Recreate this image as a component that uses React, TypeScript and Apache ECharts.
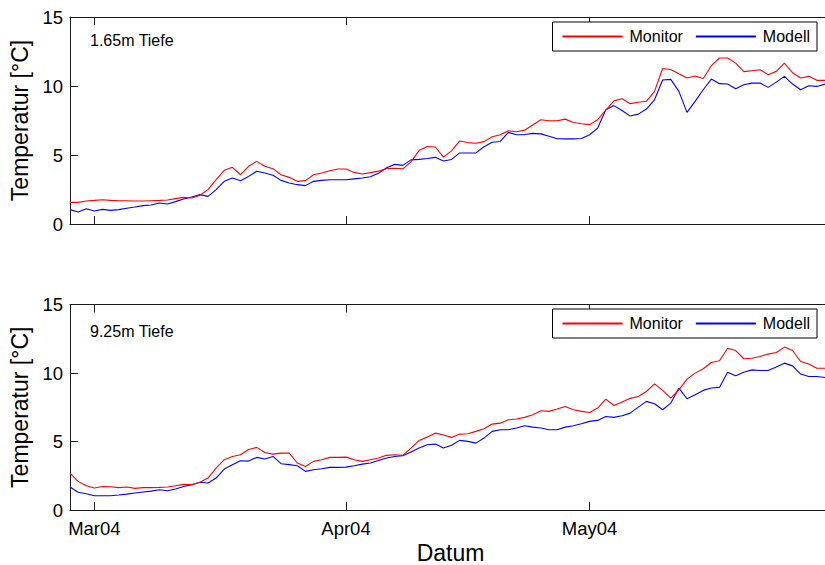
import React, { useEffect, useRef } from "react";
import * as echarts from "echarts";

// Daily values from 27 Feb 2004 to 30 May 2004
const START_DATE_UTC = Date.UTC(2004, 1, 27);

const monitor165 = [
  1.57, 1.57, 1.67, 1.71, 1.76, 1.71, 1.69, 1.69, 1.67, 1.67,
  1.69, 1.71, 1.74, 1.84, 1.93, 1.88, 2.08, 2.49, 3.21, 3.89,
  4.11, 3.57, 4.18, 4.54, 4.18, 4.01, 3.57, 3.38, 3.09, 3.14,
  3.57, 3.7, 3.86, 3.99, 3.99, 3.74, 3.62, 3.72, 3.83, 4.01,
  4.04, 4.0, 4.5, 5.32, 5.62, 5.58, 4.85, 5.3, 6.02, 5.9,
  5.85, 5.97, 6.32, 6.47, 6.76, 6.68, 6.8, 7.17, 7.55, 7.48,
  7.48, 7.6, 7.35, 7.26, 7.2, 7.56, 8.26, 8.92, 9.08, 8.72,
  8.82, 8.89, 9.61, 11.27, 11.2, 10.88, 10.58, 10.72, 10.54, 11.47,
  12.03, 12.03, 11.66, 11.04, 11.11, 11.18, 10.82, 11.06, 11.66, 10.96,
  10.58, 10.7, 10.41, 10.41,
];

const modell165 = [
  1.04, 0.87, 1.11, 0.94, 1.06, 0.99, 1.04, 1.14, 1.23, 1.33,
  1.38, 1.52, 1.45, 1.62, 1.81, 1.96, 2.13, 2.0, 2.49, 3.09,
  3.33, 3.14, 3.45, 3.82, 3.7, 3.53, 3.16, 2.97, 2.85, 2.78,
  3.09, 3.16, 3.21, 3.21, 3.21, 3.27, 3.33, 3.42, 3.67, 4.08,
  4.32, 4.25, 4.65, 4.68, 4.75, 4.83, 4.56, 4.68, 5.15, 5.15,
  5.15, 5.6, 5.92, 5.98, 6.64, 6.47, 6.48, 6.57, 6.53, 6.36,
  6.18, 6.17, 6.17, 6.2, 6.47, 6.95, 8.28, 8.58, 8.22, 7.82,
  7.96, 8.33, 9.0, 10.43, 10.48, 9.61, 8.09, 8.89, 9.73, 10.5,
  10.17, 10.14, 9.8, 10.09, 10.21, 10.21, 9.9, 10.28, 10.7, 10.14,
  9.73, 10.02, 9.97, 10.14,
];

const monitor925 = [
  2.7, 2.09, 1.77, 1.6, 1.72, 1.7, 1.63, 1.68, 1.58, 1.63,
  1.63, 1.65, 1.68, 1.77, 1.87, 1.85, 2.02, 2.33, 3.06, 3.67,
  3.91, 4.03, 4.42, 4.57, 4.2, 4.08, 4.15, 4.15, 3.43, 3.18,
  3.55, 3.67, 3.84, 3.84, 3.86, 3.67, 3.55, 3.67, 3.79, 3.99,
  4.03, 3.99, 4.52, 5.08, 5.32, 5.61, 5.48, 5.3, 5.54, 5.57,
  5.74, 5.93, 6.27, 6.34, 6.59, 6.64, 6.76, 6.95, 7.24, 7.2,
  7.37, 7.56, 7.32, 7.2, 7.12, 7.44, 8.09, 7.63, 7.88, 8.15,
  8.28, 8.65, 9.21, 8.73, 8.17, 8.77, 9.55, 9.99, 10.31, 10.77,
  10.89, 11.81, 11.64, 11.04, 11.08, 11.21, 11.38, 11.5, 11.89, 11.64,
  10.84, 10.65, 10.35, 10.35,
];

const modell925 = [
  1.68, 1.29, 1.19, 1.04, 1.04, 1.04, 1.09, 1.16, 1.24, 1.31,
  1.38, 1.48, 1.41, 1.53, 1.72, 1.85, 2.02, 1.97, 2.33, 2.99,
  3.3, 3.59, 3.57, 3.84, 3.72, 3.91, 3.38, 3.31, 3.23, 2.82,
  2.94, 3.01, 3.11, 3.11, 3.13, 3.23, 3.35, 3.43, 3.62, 3.79,
  3.91, 3.96, 4.23, 4.52, 4.76, 4.81, 4.52, 4.72, 5.08, 5.01,
  4.88, 5.25, 5.74, 5.86, 5.86, 5.98, 6.15, 6.05, 5.98, 5.86,
  5.86, 6.05, 6.15, 6.29, 6.47, 6.54, 6.83, 6.76, 6.88, 7.07,
  7.51, 7.93, 7.76, 7.32, 7.8, 8.9, 8.12, 8.41, 8.73, 8.9,
  8.95, 10.06, 9.8, 10.06, 10.23, 10.18, 10.18, 10.43, 10.72, 10.52,
  9.92, 9.75, 9.75, 9.67,
];

const SERIES_NAMES = ["Monitor", "Modell"];
const SERIES_COLORS = ["#ff0000", "#0000ff"];
const PANEL_TITLES = ["1.65m Tiefe", "9.25m Tiefe"];
const Y_MIN = 0;
const Y_MAX = 15;
const Y_INTERVAL = 5;
const MONTHS = ["Jan", "Feb", "Mar", "Apr", "May", "Jun", "Jul", "Aug", "Sep", "Oct", "Nov", "Dec"];

function buildDates(n: number): string[] {
  const out: string[] = [];
  for (let i = 0; i < n; i++) {
    const d = new Date(START_DATE_UTC + i * 86400000);
    const mm = String(d.getUTCMonth() + 1).padStart(2, "0");
    const dd = String(d.getUTCDate()).padStart(2, "0");
    out.push(`${d.getUTCFullYear()}-${mm}-${dd}`);
  }
  return out;
}

const FONT = "'Liberation Sans', Arial, Helvetica, sans-serif";
const AXIS_COLOR = "#1a1a1a";

// internal series key = display name + "|" + panel index
const key = (idx: number, panel: number) => `${SERIES_NAMES[idx]}|${panel}`;

export default function App() {
  const ref = useRef<HTMLDivElement>(null);

  useEffect(() => {
    if (!ref.current) return;
    const chart = echarts.init(ref.current, undefined, { renderer: "svg" });
    const dates = buildDates(monitor165.length);
    const isMonthStart = (_idx: number, value: string) => value.endsWith("-01");
    const fmt = (value: string) => {
      const [y, m] = value.split("-");
      return MONTHS[parseInt(m, 10) - 1] + y.slice(2);
    };

    const grids = [
      { left: 70, right: -1, top: 17, height: 207 },
      { left: 70, right: -1, top: 304.5, height: 206 },
    ];

    const makeX = (gridIndex: number, position: "bottom" | "top", labels: boolean, name?: string) => ({
      type: "category",
      gridIndex,
      position,
      data: dates,
      boundaryGap: false,
      axisLine: { show: true, lineStyle: { color: AXIS_COLOR, width: 1 } },
      axisTick: { show: true, inside: true, length: 8, interval: isMonthStart, lineStyle: { color: AXIS_COLOR } },
      axisLabel: {
        show: labels,
        interval: isMonthStart,
        formatter: fmt,
        fontSize: 18.5,
        fontFamily: FONT,
        color: "#000",
        margin: 9,
      },
      splitLine: { show: false },
      name: name || "",
      nameLocation: "middle",
      nameGap: 31,
      nameTextStyle: { fontSize: 23, fontFamily: FONT, color: "#000", padding: [0, 0, 0, 6] },
    });

    const makeY = (gridIndex: number) => ({
      type: "value",
      gridIndex,
      min: Y_MIN,
      max: Y_MAX,
      interval: Y_INTERVAL,
      axisLine: { show: true, lineStyle: { color: AXIS_COLOR, width: 1 } },
      axisTick: { show: true, inside: true, length: 8, lineStyle: { color: AXIS_COLOR } },
      axisLabel: { fontSize: 18.5, fontFamily: FONT, color: "#000", margin: 7 },
      splitLine: { show: false },
      name: "Temperatur [°C]",
      nameLocation: "middle",
      nameRotate: 90,
      nameGap: 37,
      nameTextStyle: { fontSize: 23, fontFamily: FONT, color: "#000" },
    });

    const makeLegend = (panel: number, top: number) => ({
      data: SERIES_NAMES.map((_n, i) => ({ name: key(i, panel) })),
      formatter: (name: string) => name.split("|")[0],
      right: 8,
      top,
      orient: "horizontal",
      itemWidth: 60,
      itemHeight: 1,
      itemGap: 12,
      padding: [6, 7, 6, 9],
      borderColor: "#000",
      borderWidth: 1,
      borderRadius: 0,
      backgroundColor: "#fff",
      textStyle: { fontSize: 16, fontFamily: FONT, color: "#000", padding: [0, 0, 0, 2], lineHeight: 17 },
    });

    const line = (idx: number, data: number[], panel: number) => ({
      type: "line",
      name: key(idx, panel),
      data,
      xAxisIndex: panel * 2,
      yAxisIndex: panel,
      symbol: "none",
      showSymbol: false,
      color: SERIES_COLORS[idx],
      lineStyle: { color: SERIES_COLORS[idx], width: 1.1 },
      itemStyle: { color: SERIES_COLORS[idx] },
      z: idx === 0 ? 3 : 2,
    });

    chart.setOption({
      animation: false,
      backgroundColor: "#fff",
      grid: grids,
      xAxis: [
        makeX(0, "bottom", false),
        makeX(0, "top", false),
        makeX(1, "bottom", true, "Datum"),
        makeX(1, "top", false),
      ],
      yAxis: [makeY(0), makeY(1)],
      legend: [makeLegend(0, 22), makeLegend(1, 309)],
      series: [
        line(0, monitor165, 0),
        line(1, modell165, 0),
        line(0, monitor925, 1),
        line(1, modell925, 1),
      ],
      graphic: [
        {
          type: "text",
          x: 90,
          y: 40,
          style: { text: PANEL_TITLES[0], fontSize: 16, fontFamily: FONT, fill: "#000", verticalAlign: "middle" },
        },
        {
          type: "text",
          x: 90,
          y: 331.5,
          style: { text: PANEL_TITLES[1], fontSize: 16, fontFamily: FONT, fill: "#000", verticalAlign: "middle" },
        },
      ],
    });

    return () => chart.dispose();
  }, []);

  return (
    <div
      ref={ref}
      style={{ position: "fixed", left: 0, top: 0, width: 825, height: 565, background: "#fff" }}
    />
  );
}
